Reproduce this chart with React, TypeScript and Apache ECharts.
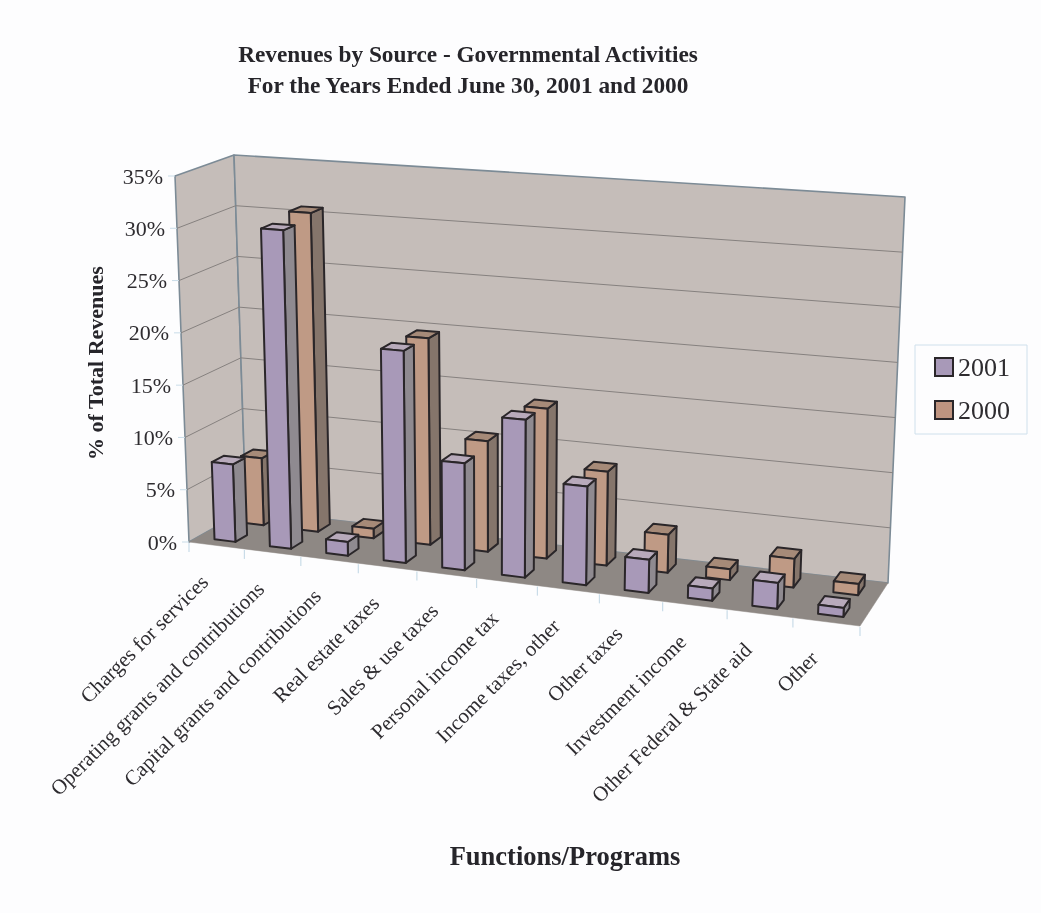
import React, { useEffect, useRef } from "react";
import * as echarts from "echarts";

const categories = [
  "Charges for services",
  "Operating grants and contributions",
  "Capital grants and contributions",
  "Real estate taxes",
  "Sales & use taxes",
  "Personal income tax",
  "Income taxes, other",
  "Other taxes",
  "Investment income",
  "Other Federal & State aid",
  "Other",
];
const values2001 = [7.4, 30.2, 1.3, 19.8, 9.9, 14.5, 9, 3, 1.1, 2.3, 0.8];
const values2000 = [6.5, 30.7, 0.9, 19.6, 10.4, 14, 8.7, 3.5, 1, 2.6, 1];
const yTicks = [0, 5, 10, 15, 20, 25, 30, 35];
const yTickLabels = ["0%", "5%", "10%", "15%", "20%", "25%", "30%", "35%"];

const FONT = '"Liberation Serif", serif';
const GRID = { left: 189, top: 176, width: 671, height: 366 };
type P = [number, number];
const FLB: P = [189, 542];
const FLT: P = [175, 176];
const FRB: P = [860, 626];
const FRT: P = [878, 226];
const BLB: P = [246, 510];
const BLT: P = [234, 155];
const BRB: P = [888, 583];
const BRT: P = [905, 197];
const PERSPECTIVE = 0.9;

const mix = (a: P, b: P, t: number): P => [a[0] + (b[0] - a[0]) * t, a[1] + (b[1] - a[1]) * t];
function project(u0: number, v: number, d: number): P {
  const u = (u0 * PERSPECTIVE) / (1 + (PERSPECTIVE - 1) * u0);
  const fb = mix(FLB, FRB, u);
  const ft = mix(FLT, FRT, u);
  const bb = mix(BLB, BRB, u);
  const bt = mix(BLT, BRT, u);
  return mix(mix(fb, ft, v), mix(bb, bt, v), d);
}
const toU = (px: number) => (px - GRID.left) / GRID.width;
const toV = (py: number) => (GRID.top + GRID.height - py) / GRID.height;

const poly = (points: P[], fill: string, stroke: string, lineWidth: number) => ({
  type: "polygon",
  shape: { points },
  style: { fill, stroke, lineWidth, lineJoin: "round" },
  silent: true,
});
const line = (a: P, b: P, stroke: string, lineWidth: number) => ({
  type: "line",
  shape: { x1: a[0], y1: a[1], x2: b[0], y2: b[1] },
  style: { stroke, lineWidth },
  silent: true,
});
const text = (x: number, y: number, content: string, font: string, align: string, rotation = 0) => ({
  type: "text",
  x,
  y,
  rotation,
  style: { text: content, font, fill: "#2e2c30", align, verticalAlign: "middle" },
  silent: true,
});

const WALL = "#c5bdb9";
const WALL_EDGE = "#7c8b96";
const GRIDLINE = "#86817f";
const FLOOR = "#8e8884";
const TICK = "#c9dce8";

function renderFrame(_p: any, api: any) {
  const vOf = (val: number) => toV(api.coord([0, val])[1]);
  const band = api.size([1, 0])[0];
  const uOfBand = (i: number) => toU(api.coord([i, 0])[0] - band / 2);
  const children: any[] = [];
  children.push(poly([project(0, 0, 0), project(0, 1, 0), project(0, 1, 1), project(0, 0, 1)], WALL, WALL_EDGE, 1.6));
  children.push(poly([project(0, 0, 1), project(0, 1, 1), project(1, 1, 1), project(1, 0, 1)], WALL, WALL_EDGE, 1.6));
  yTicks.forEach((t, i) => {
    const v = vOf(t);
    if (t > 0 && t < 35) {
      children.push(line(project(0, v, 0), project(0, v, 1), GRIDLINE, 1));
      children.push(line(project(0, v, 1), project(1, v, 1), GRIDLINE, 1));
    }
    const a = project(0, v, 0);
    children.push(line(a, [a[0] - 7, a[1]], TICK, 1));
    children.push(text(a[0] - 12, a[1], yTickLabels[i], `22px ${FONT}`, "right"));
  });
  children.push(poly([project(0, 0, 0), project(1, 0, 0), project(1, 0, 1), project(0, 0, 1)], FLOOR, FLOOR, 0.5));
  for (let i = 0; i <= categories.length; i++) {
    const a = project(i < categories.length ? uOfBand(i) : 1, 0, 0);
    children.push(line([a[0], a[1] + 1], [a[0], a[1] + 10], TICK, 1.2));
  }
  categories.forEach((c, i) => {
    const u = toU(api.coord([i, 0])[0]);
    const a = project(u, 0, 0);
    children.push(text(a[0] - 12, a[1] + 33, c, `21px ${FONT}`, "right", Math.PI / 4));
  });
  return { type: "group", children };
}

const BAR_RATIO = 0.38;
const makeBars = (d0: number, d1: number, front: string, side: string, top: string) => (_p: any, api: any) => {
  const c = api.coord([api.value(0), 0]);
  const h = api.coord([api.value(0), api.value(1)]);
  const half = (api.size([1, 0])[0] * BAR_RATIO) / 2;
  const u0 = toU(c[0] - half);
  const u1 = toU(c[0] + half);
  const v = toV(h[1]);
  const E = "#2a2629";
  return {
    type: "group",
    children: [
      poly([project(u1, 0, d0), project(u1, 0, d1), project(u1, v, d1), project(u1, v, d0)], side, E, 2),
      poly([project(u0, v, d0), project(u1, v, d0), project(u1, v, d1), project(u0, v, d1)], top, E, 2),
      poly([project(u0, 0, d0), project(u1, 0, d0), project(u1, v, d0), project(u0, v, d0)], front, E, 2),
    ],
  };
};

export default function App() {
  const ref = useRef<HTMLDivElement>(null);
  useEffect(() => {
    const chart = echarts.init(ref.current!, undefined, { renderer: "svg" });
    chart.setOption({
      animation: false,
      backgroundColor: "#fdfdfe",
      title: {
        text: "Revenues by Source - Governmental Activities\nFor the Years Ended June 30, 2001 and 2000",
        left: 463,
        top: 33,
        textAlign: "center",
        textStyle: { fontFamily: FONT, fontSize: 23.3, fontWeight: "bold", color: "#26252a", lineHeight: 31 },
      },
      grid: { ...GRID },
      xAxis: { type: "category", data: categories, show: false },
      yAxis: { type: "value", min: 0, max: 35, interval: 5, show: false },
      legend: {
        orient: "vertical",
        left: 915,
        top: 345,
        padding: [9, 17, 11, 19],
        itemWidth: 18,
        itemHeight: 18,
        itemGap: 17,
        borderColor: "#cfe0ec",
        borderWidth: 1,
        textStyle: { fontFamily: FONT, fontSize: 26, color: "#2e2c30" },
        data: [
          { name: "2001", icon: "rect", itemStyle: { color: "#a899b8", borderColor: "#2a2629", borderWidth: 2 } },
          { name: "2000", icon: "rect", itemStyle: { color: "#bf9480", borderColor: "#2a2629", borderWidth: 2 } },
        ],
      },
      graphic: [
        {
          type: "text",
          x: 95,
          y: 363,
          rotation: Math.PI / 2,
          style: { text: "% of Total Revenues", font: `bold 22px ${FONT}`, fill: "#26252a", align: "center", verticalAlign: "middle" },
        },
        {
          type: "text",
          x: 565,
          y: 856,
          style: { text: "Functions/Programs", font: `bold 26.5px ${FONT}`, fill: "#26252a", align: "center", verticalAlign: "middle" },
        },
      ],
      series: [
        { type: "custom", name: "frame", coordinateSystem: "cartesian2d", data: [[0, 0]], renderItem: renderFrame, silent: true, z: 1 },
        {
          type: "custom",
          name: "2000",
          coordinateSystem: "cartesian2d",
          encode: { x: 0, y: 1 },
          data: values2000.map((v, i) => [i, v]),
          itemStyle: { color: "#bf9480" },
          renderItem: makeBars(0.66, 0.88, "#bf9a85", "#85756b", "#a68a78"),
          z: 2,
        },
        {
          type: "custom",
          name: "2001",
          coordinateSystem: "cartesian2d",
          encode: { x: 0, y: 1 },
          data: values2001.map((v, i) => [i, v]),
          itemStyle: { color: "#a899b8" },
          renderItem: makeBars(0.15, 0.36, "#a899b8", "#8f8a90", "#b8aabb"),
          z: 3,
        },
      ],
    });
    return () => chart.dispose();
  }, []);
  return <div ref={ref} style={{ position: "absolute", left: 0, top: 0, width: 1041, height: 913, filter: "blur(0.6px)" }} />;
}
